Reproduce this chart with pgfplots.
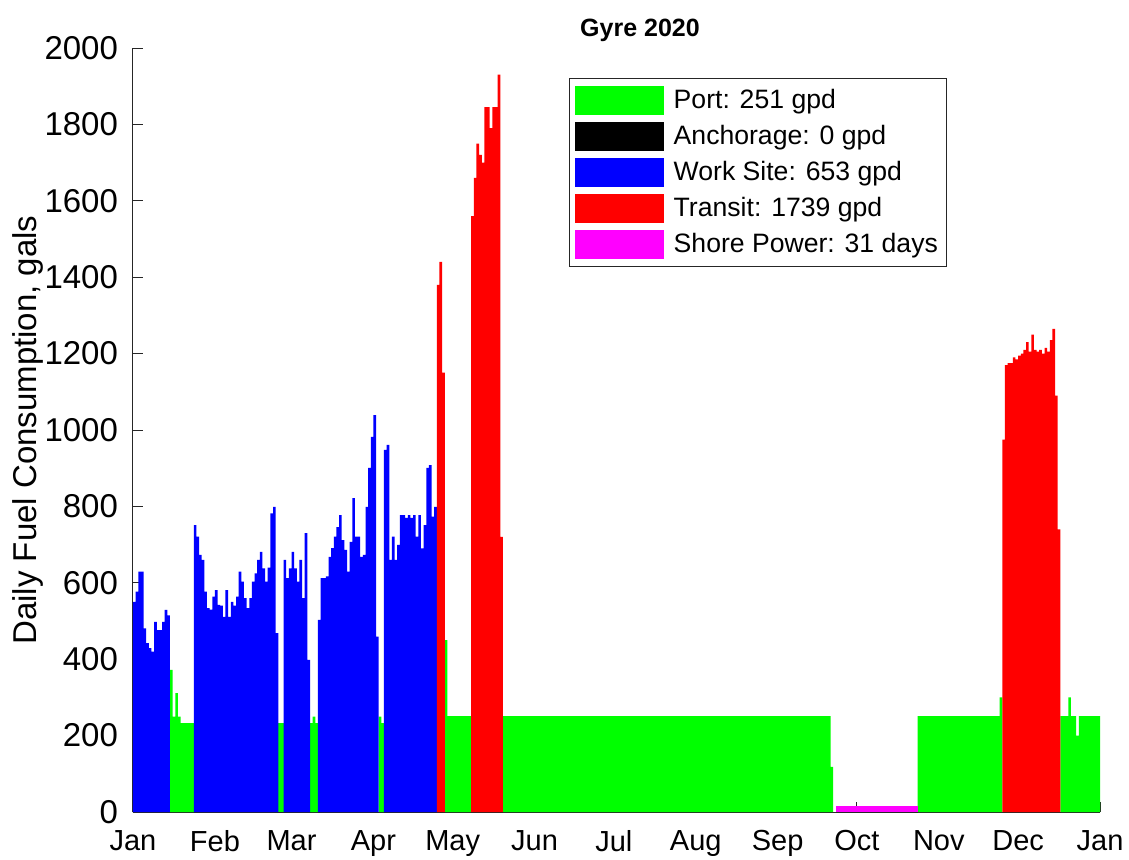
\documentclass[border=0pt]{standalone}
\usepackage{pgfplots}
\pgfplotsset{compat=1.18}
\usepackage{fontspec}
\setmainfont{Liberation Sans}
\definecolor{mgreen}{rgb}{0,1,0}
\definecolor{mblue}{rgb}{0,0,1}
\definecolor{mred}{rgb}{1,0,0}
\definecolor{mmag}{rgb}{1,0,1}
\begin{document}
\begin{tikzpicture}
\begin{axis}[
  width=483.5pt, height=382pt, scale only axis,
  xmin=0, xmax=366, ymin=0, ymax=2000,
  axis lines*=left,
  axis line style={black!85, line width=0.5pt},
  tick style={black!85, line width=0.5pt},
  major tick length=4.85pt,
  tick align=inside,
  xtick={0,31,60,91,121,152,182,213,244,274,305,335,366},
  xticklabels={Jan,Feb,Mar,Apr,May,Jun,Jul,Aug,Sep,Oct,Nov,Dec,Jan},
  ytick={0,200,...,2000},
  /pgf/number format/assume math mode=true,
  /pgf/number format/1000 sep={},
  xticklabel style={font=\fontsize{14.5}{17}\selectfont, yshift=-5.5pt},
  yticklabel style={font=\fontsize{16.5}{19}\selectfont, xshift=-4pt},
  ylabel={Daily Fuel Consumption, gals},
  ylabel style={font=\fontsize{16.5}{19}\selectfont, at={(rel axis cs:0,0.5)}, anchor=center, yshift=52.5pt},
  title={\bfseries Gyre 2020},
  title style={font=\fontsize{12.5}{15}\selectfont, at={(rel axis cs:0.5243,1)}, anchor=base, yshift=0pt},
  legend style={at={(rel axis cs:0.4509,0.9607)}, anchor=north west,
    draw=black!85, line width=0.5pt, fill=white,
    font=\fontsize{13.3}{16}\selectfont,
    inner xsep=2.5pt, inner ysep=3.5pt, row sep=3.6pt,
    nodes={inner sep=1.6pt},
    /tikz/every odd column/.append style={column sep=3.5pt}},
  legend cell align=left,
]
% Port (green)
\addplot[ybar interval, fill=mgreen, draw=none, forget plot] coordinates {(14,372)(15,250)(16,311)(17,250)(18,233)(23,0)};
\addplot[ybar interval, fill=mgreen, draw=none, forget plot] coordinates {(55,233)(57,0)};
\addplot[ybar interval, fill=mgreen, draw=none, forget plot] coordinates {(67,233)(68,250)(69,233)(70,0)};
\addplot[ybar interval, fill=mgreen, draw=none, forget plot] coordinates {(93,250)(94,233)(95,0)};
\addplot[ybar interval, fill=mgreen, draw=none, forget plot] coordinates {(118,450)(119,251)(128,0)};
\addplot[ybar interval, fill=mgreen, draw=none, forget plot] coordinates {(140,251)(264,118)(265,0)};
\addplot[ybar interval, fill=mgreen, draw=none, forget plot] coordinates {(297,251)(328,300)(329,0)};
\addplot[ybar interval, fill=mgreen, draw=none, forget plot] coordinates {(351,251)(354,300)(355,251)(357,200)(358,251)(366,0)};
% Work Site (blue)
\addplot[ybar interval, fill=mblue, draw=none, forget plot] coordinates {(0,550)(1,577)(2,629)(3,629)(4,481)(5,442)(6,429)(7,420)(8,498)(9,476)(10,476)(11,498)(12,529)(13,515)(14,0)};
\addplot[ybar interval, fill=mblue, draw=none, forget plot] coordinates {(23,751)(24,721)(25,673)(26,660)(27,577)(28,534)(29,530)(30,564)(31,581)(32,542)(33,540)(34,511)(35,581)(36,511)(37,550)(38,540)(39,564)(40,629)(41,603)(42,560)(43,534)(44,560)(45,603)(46,625)(47,660)(48,681)(49,638)(50,603)(51,640)(52,782)(53,799)(54,468)(55,0)};
\addplot[ybar interval, fill=mblue, draw=none, forget plot] coordinates {(57,660)(58,612)(59,638)(60,681)(61,638)(62,603)(63,660)(64,560)(65,730)(66,398)(67,0)};
\addplot[ybar interval, fill=mblue, draw=none, forget plot] coordinates {(70,503)(71,612)(72,612)(73,617)(74,668)(75,691)(76,721)(77,746)(78,777)(79,712)(80,686)(81,629)(82,707)(83,822)(84,721)(85,721)(86,668)(87,673)(88,799)(89,901)(90,982)(91,1039)(92,459)(93,0)};
\addplot[ybar interval, fill=mblue, draw=none, forget plot] coordinates {(95,948)(96,961)(97,660)(98,721)(99,660)(100,699)(101,777)(102,777)(103,770)(104,777)(105,770)(106,777)(107,721)(108,777)(109,690)(110,751)(111,901)(112,908)(113,773)(114,799)(115,0)};
% Transit (red)
\addplot[ybar interval, fill=mred, draw=none, forget plot] coordinates {(115,1380)(116,1440)(117,1150)(118,0)};
\addplot[ybar interval, fill=mred, draw=none, forget plot] coordinates {(128,1560)(129,1660)(130,1750)(131,1720)(132,1700)(133,1845)(134,1845)(135,1790)(136,1845)(137,1845)(138,1930)(139,720)(140,0)};
\addplot[ybar interval, fill=mred, draw=none, forget plot] coordinates {(329,975)(330,1170)(331,1175)(332,1175)(333,1190)(334,1185)(335,1195)(336,1200)(337,1210)(338,1230)(339,1205)(340,1250)(341,1210)(342,1205)(343,1210)(344,1200)(345,1215)(346,1205)(347,1235)(348,1265)(349,1090)(350,740)(351,0)};
% Shore Power (magenta)
\addplot[ybar interval, fill=mmag, draw=none, forget plot] coordinates {(266,15)(297,0)};
% legend
\addlegendimage{legend image code/.code={\fill[mgreen] (0pt,-7pt) rectangle (44pt,7pt);}}
\addlegendentry{Port: 251 gpd}
\addlegendimage{legend image code/.code={\fill[black] (0pt,-7pt) rectangle (44pt,7pt);}}
\addlegendentry{Anchorage: 0 gpd}
\addlegendimage{legend image code/.code={\fill[mblue] (0pt,-7pt) rectangle (44pt,7pt);}}
\addlegendentry{Work Site: 653 gpd}
\addlegendimage{legend image code/.code={\fill[mred] (0pt,-7pt) rectangle (44pt,7pt);}}
\addlegendentry{Transit: 1739 gpd}
\addlegendimage{legend image code/.code={\fill[mmag] (0pt,-7pt) rectangle (44pt,7pt);}}
\addlegendentry{Shore Power: 31 days}
\coordinate (sw) at (rel axis cs:0,0);
\end{axis}
\pgfresetboundingbox
\path (sw) ++(-66.5pt,-23.5pt) rectangle ++(564.5pt,429.5pt);
\end{tikzpicture}
\end{document}
